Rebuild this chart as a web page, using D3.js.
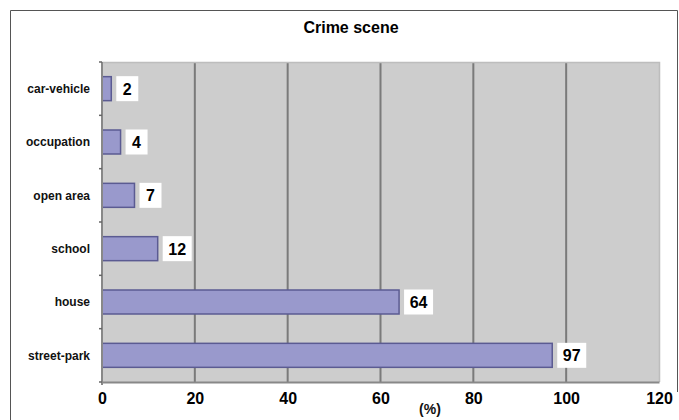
<!DOCTYPE html>
<html>
<head>
<meta charset="utf-8">
<script src="https://cdn.jsdelivr.net/npm/d3@7"></script>
<style>
  body { margin: 0; background: #fff; }
  svg { display: block; font-family: "Liberation Sans", Arial, Helvetica, sans-serif; }
</style>
</head>
<body>
<svg id="chart" width="679" height="420"></svg>
<script>
// Crime scene shares (%), top to bottom
const categories = ["car-vehicle", "occupation", "open area", "school", "house", "street-park"];
const values = [2, 4, 7, 12, 64, 97];
const xTicks = [0, 20, 40, 60, 80, 100, 120];
const title = "Crime scene";
const xAxisTitle = "(%)";

const svg = d3.select("#chart");
const margin = { left: 102, right: 20, top: 62, bottom: 38 };
const W = 679, H = 420;
const plotRight = 659, plotBottom = 382;

// outer chart frame (left, top, right edges)
svg.append("path")
  .attr("d", `M10.5,${H + 5} V10.5 H677.5 V392`)
  .attr("fill", "none")
  .attr("stroke", "#555")
  .attr("stroke-width", 1);

const x = d3.scaleLinear().domain([0, 120]).range([margin.left, plotRight]);
const y = d3.scaleBand().domain(categories).range([margin.top, plotBottom]).paddingInner(0.55).paddingOuter(0.275);
const yBand = d3.scaleBand().domain(categories).range([margin.top, plotBottom]);

// plot background
svg.append("rect")
  .attr("x", x(0)).attr("y", margin.top)
  .attr("width", x(120) - x(0)).attr("height", plotBottom - margin.top)
  .attr("fill", "#cdcdcd");

// vertical gridlines
svg.append("g").selectAll("line")
  .data(xTicks.filter(d => d > 0 && d < 120))
  .join("line")
  .attr("x1", d => x(d)).attr("x2", d => x(d))
  .attr("y1", margin.top).attr("y2", plotBottom)
  .attr("stroke", "#7a7a7a").attr("stroke-width", 2);

// plot top & right edge (light)
svg.append("path")
  .attr("d", `M${x(0)},${margin.top + 0.5} H${x(120) + 0.5} V${plotBottom}`)
  .attr("fill", "none").attr("stroke", "#bdbdbd").attr("stroke-width", 1.5);

// bars
svg.append("g").selectAll("rect")
  .data(values)
  .join("rect")
  .attr("x", x(0))
  .attr("y", (d, i) => y(categories[i]))
  .attr("width", d => x(d) - x(0))
  .attr("height", y.bandwidth())
  .attr("fill", "#9999cc")
  .attr("stroke", "#5b5b92")
  .attr("stroke-width", 1.5);

// value labels in white boxes
const lab = svg.append("g").selectAll("g")
  .data(values)
  .join("g")
  .attr("transform", (d, i) => `translate(${x(d) + 5},${y(categories[i]) + y.bandwidth() / 2})`);
lab.append("rect")
  .attr("x", 0)
  .attr("y", -12.5)
  .attr("width", d => String(d).length === 1 ? 22 : 29)
  .attr("height", 25)
  .attr("fill", "#fff");
lab.append("text")
  .attr("x", d => String(d).length === 1 ? 11 : 14.5)
  .attr("y", 6)
  .attr("text-anchor", "middle")
  .attr("font-weight", "bold")
  .attr("font-size", 16)
  .attr("fill", "#000")
  .text(d => d);

// x axis
const xAxis = svg.append("g")
  .attr("transform", `translate(0,${plotBottom})`)
  .call(d3.axisBottom(x).tickValues(xTicks).tickSize(0).tickPadding(10));
xAxis.select(".domain").attr("stroke", "#888").attr("stroke-width", 2);
xAxis.selectAll("text")
  .attr("font-family", "Liberation Sans, Arial, sans-serif")
  .attr("font-size", 16).attr("font-weight", "bold").attr("fill", "#000")
  .attr("dy", "0.75em");

// y axis with ticks between categories
const yAxisG = svg.append("g");
yAxisG.append("line")
  .attr("x1", x(0)).attr("x2", x(0))
  .attr("y1", margin.top).attr("y2", plotBottom + 3)
  .attr("stroke", "#888").attr("stroke-width", 2);
const tickYs = categories.map(c => yBand(c)).concat([plotBottom]);
yAxisG.selectAll("line.tk")
  .data(tickYs)
  .join("line")
  .attr("class", "tk")
  .attr("x1", x(0) - 3).attr("x2", x(0))
  .attr("y1", d => d).attr("y2", d => d)
  .attr("stroke", "#666").attr("stroke-width", 1.5);
yAxisG.selectAll("text")
  .data(categories)
  .join("text")
  .attr("x", 90)
  .attr("y", d => y(d) + y.bandwidth() / 2)
  .attr("dy", "0.35em")
  .attr("text-anchor", "end")
  .attr("font-size", 12)
  .attr("font-weight", "bold")
  .attr("fill", "#111")
  .text(d => d);

// title
svg.append("text")
  .attr("x", 351).attr("y", 33)
  .attr("text-anchor", "middle")
  .attr("font-size", 16).attr("font-weight", "bold")
  .attr("fill", "#000")
  .text(title);

// x axis title
svg.append("text")
  .attr("x", 430).attr("y", 414)
  .attr("text-anchor", "middle")
  .attr("font-size", 14).attr("font-weight", "bold")
  .attr("fill", "#111")
  .text(xAxisTitle);
</script>
</body>
</html>
